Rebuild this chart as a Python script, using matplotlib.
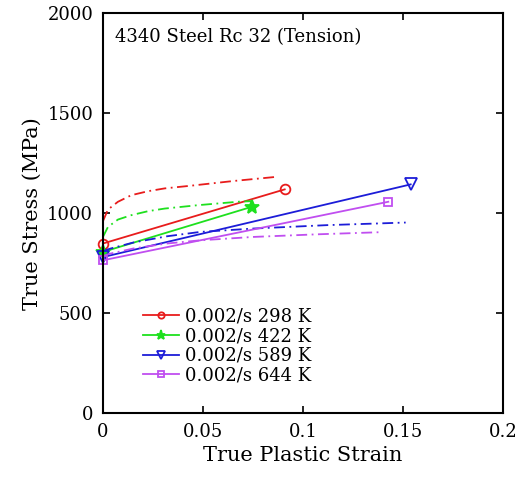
import matplotlib
matplotlib.use("Agg")
import matplotlib.pyplot as plt

plt.rcParams['font.family'] = ['DejaVu Serif']

# experimental data (true plastic strain, true stress MPa)
exp_strain_298 = [0.0, 0.0909]
exp_stress_298 = [848, 1119]
exp_strain_422 = [0.0, 0.0745]
exp_stress_422 = [806, 1032]
exp_strain_589 = [0.0, 0.1539]
exp_stress_589 = [780, 1144]
exp_strain_644 = [0.0, 0.1427]
exp_stress_644 = [764, 1057]

# model curves
mod_strain_298 = [0.0, 0.0025, 0.0075, 0.0142, 0.0226, 0.0309, 0.0436, 0.0653, 0.087]
mod_stress_298 = [960, 1018, 1057, 1090, 1110, 1124, 1137, 1161, 1182]
mod_strain_422 = [0.0, 0.0025, 0.0075, 0.0142, 0.0226, 0.0309, 0.0476, 0.0686, 0.0745]
mod_stress_422 = [881, 931, 968, 990, 1010, 1023, 1040, 1058, 1060]
mod_strain_589 = [0.0, 0.0035, 0.0152, 0.0319, 0.0486, 0.0753, 0.112, 0.1514]
mod_stress_589 = [810, 822, 853, 884, 906, 923, 940, 953]
mod_strain_644 = [0.0, 0.0035, 0.0152, 0.0319, 0.0486, 0.0753, 0.107, 0.1397]
mod_stress_644 = [785, 797, 823, 848, 864, 881, 894, 905]

labels = ['0.002/s 298 K', '0.002/s 422 K', '0.002/s 589 K', '0.002/s 644 K']
colors = ['#e81c1c', '#1ee01e', '#1c1cd8', '#c04ef0']
markers = ['o', '*', 'v', 's']
sizes = [7, 10, 8, 6]

fig = plt.figure(figsize=(5.2, 4.79), dpi=100)
ax = fig.add_axes([0.198, 0.138, 0.769, 0.834])

exp_x = [exp_strain_298, exp_strain_422, exp_strain_589, exp_strain_644]
exp_y = [exp_stress_298, exp_stress_422, exp_stress_589, exp_stress_644]
mod_x = [mod_strain_298, mod_strain_422, mod_strain_589, mod_strain_644]
mod_y = [mod_stress_298, mod_stress_422, mod_stress_589, mod_stress_644]

for i in range(4):
    ax.plot(exp_x[i], exp_y[i], color=colors[i], marker=markers[i], ms=sizes[i],
            mfc='none' if markers[i] != '*' else colors[i], mew=1.3, lw=1.3,
            label=labels[i], clip_on=False)
    ax.plot(mod_x[i], mod_y[i], color=colors[i], lw=1.3, ls=(0, (6, 2.5, 1, 2.5)))

ax.set_xlim(0, 0.2)
ax.set_ylim(0, 2000)
ax.set_xticks([0, 0.05, 0.1, 0.15, 0.2])
ax.set_xticklabels(['0', '0.05', '0.1', '0.15', '0.2'])
ax.set_yticks([0, 500, 1000, 1500, 2000])
ax.tick_params(direction='in', top=True, right=True, labelsize=13, length=5, width=1.2, pad=7)
for s in ax.spines.values():
    s.set_linewidth(1.5)

ax.set_xlabel('True Plastic Strain', fontsize=15)
ax.set_ylabel('True Stress (MPa)', fontsize=15)
ax.text(0.03, 0.94, '4340 Steel Rc 32 (Tension)', transform=ax.transAxes,
        fontsize=13, va='center')

leg = ax.legend(loc='lower left', bbox_to_anchor=(0.06, 0.03), frameon=False,
                fontsize=13, handlelength=2.0, labelspacing=0.1, handletextpad=0.3,
                markerscale=0.65)

fig.savefig('out.png', dpi=100)
